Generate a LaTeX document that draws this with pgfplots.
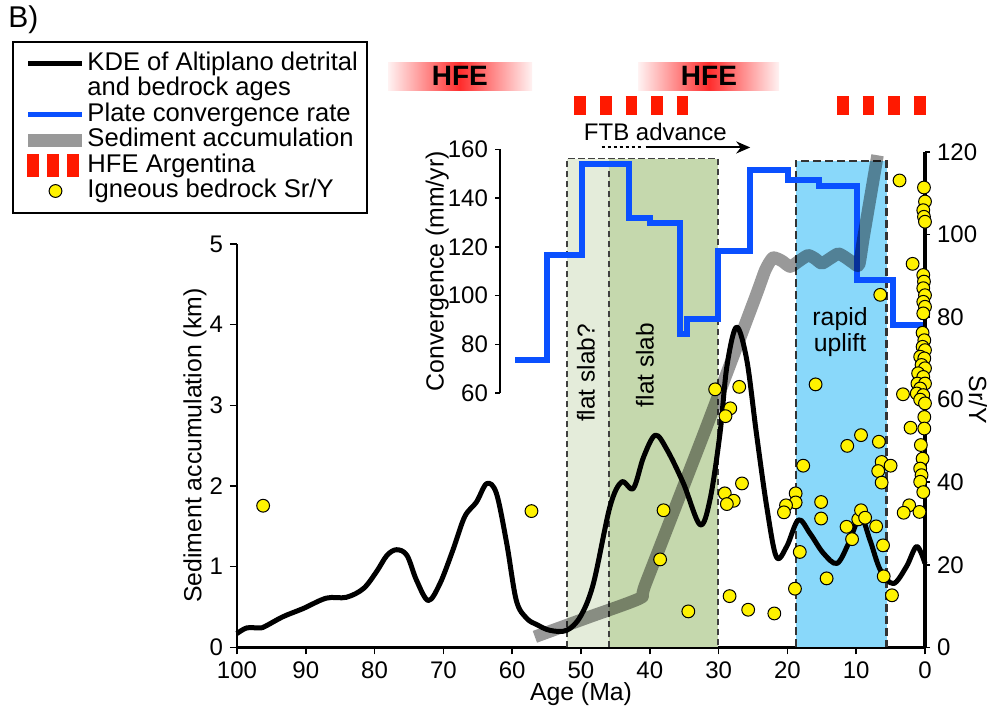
\documentclass[border=0pt]{standalone}
\usepackage{fontspec}
\setmainfont{Liberation Sans}
\usepackage{pgfplots}
\pgfplotsset{compat=1.18}
\usetikzlibrary{arrows.meta}

\definecolor{convblue}{RGB}{10,80,255}
\definecolor{slabA}{RGB}{228,236,218}
\definecolor{slabB}{RGB}{197,216,173}
\definecolor{upliftblue}{RGB}{137,216,250}
\definecolor{srydot}{RGB}{255,242,0}
\definecolor{hfeband}{RGB}{255,45,45}
\definecolor{hfedash}{RGB}{255,25,0}

\pgfplotsset{
  base/.style={scale only axis, width=344pt, at={(118.5pt,32.85pt)}, anchor=south west,
    xmin=0, xmax=100, x dir=reverse, clip=false, tick align=outside,
    /pgf/number format/assume math mode=true,
    tick label style={font=\fontsize{12}{14}\selectfont},
    label style={font=\fontsize{12.4}{15}\selectfont},
    every tick/.style={black,line width=0.8pt}, major tick length=3.5pt},
}

\begin{document}
\begin{tikzpicture}
\useasboundingbox (0,0) rectangle (494.5pt,356.5pt);

% ---------- Axis A1: regions, bottom and left axes ----------
\begin{axis}[base, height=201.65pt, ymin=0, ymax=5,
  axis x line*=bottom, axis y line*=left,
  x axis line style={line width=1.5pt,-}, y axis line style={line width=0.8pt,-},
  xtick={0,10,...,100}, ytick={0,1,...,5},
  xlabel={Age (Ma)}, ylabel={Sediment accumulation (km)},
  xlabel style={at={(axis description cs:0.5,-0.115)}, anchor=center},
  ylabel style={at={(axis description cs:-0.061,0.5)}, anchor=center}]
\addplot[draw=none, fill=slabA, forget plot] coordinates {(52.0,6.06) (45.9,6.06)} \closedcycle;
\addplot[draw=none, fill=slabB, forget plot] coordinates {(45.9,6.06) (30.04,6.06)} \closedcycle;
\addplot[draw=none, fill=upliftblue, forget plot] coordinates {(18.79,6.03) (5.57,6.03)} \closedcycle;
\addplot[black!75, line width=0.9pt, dash pattern=on 3.3pt off 1.7pt, forget plot]
  coordinates {(52.0,0) (52.0,6.06) (30.04,6.06) (30.04,0)};
\addplot[black!75, line width=0.9pt, dash pattern=on 3.3pt off 1.7pt, forget plot]
  coordinates {(45.9,0) (45.9,6.06)};
\addplot[black!80, line width=1.2pt, dash pattern=on 4pt off 2pt, forget plot]
  coordinates {(18.79,0) (18.79,6.03) (5.57,6.03) (5.57,0)};
\node[rotate=90, font=\fontsize{12.2}{14}\selectfont] at (axis cs:49.3,3.40) {flat slab?};
\node[rotate=90, font=\fontsize{12.2}{14}\selectfont] at (axis cs:40.7,3.50) {flat slab};
\node[align=center, font=\fontsize{12.4}{13.2}\selectfont] at (axis cs:12.35,3.91) {rapid\\uplift};
\end{axis}

% ---------- Axis C: convergence rate ----------
\begin{axis}[scale only axis, width=212.5pt, height=121.75pt, at={(250pt,160pt)}, anchor=south west,
  xmin=0, xmax=61.8, x dir=reverse, ymin=60, ymax=160, clip=false,
  axis x line=none, axis y line*=left, y axis line style={line width=0.8pt,-},
  tick align=outside, every tick/.style={black,line width=0.8pt}, major tick length=2.5pt,
  /pgf/number format/assume math mode=true,
  tick label style={font=\fontsize{12}{14}\selectfont},
  label style={font=\fontsize{12.4}{15}\selectfont},
  ytick={60,80,...,160}, ylabel={Convergence (mm/yr)},
  ylabel style={at={(axis description cs:-0.148,0.5)}, anchor=center}]
\addplot[convblue, line width=3pt, line join=miter, forget plot] coordinates {
(59.6,73.6) (54.9,73.6) (54.9,116.8) (49.85,116.8) (49.85,154.2) (43.1,154.2)
(43.1,132) (40.0,132) (40.0,130) (35.65,130) (35.65,84.3) (34.6,84.3) (34.6,90.5)
(30.1,90.5) (30.1,118.2) (25.5,118.2) (25.5,151.5) (19.9,151.5) (19.9,147.4)
(15.4,147.4) (15.4,145.0) (9.9,145.0) (9.9,106.6) (4.7,106.6) (4.7,88) (0,88)};
\end{axis}

% ---------- Axis A2: sediment accumulation and KDE ----------
\begin{axis}[base, height=201.65pt, ymin=0, ymax=5, hide axis]
\addplot[black, draw opacity=0.4, line width=6.25pt, line cap=butt, line join=round,
  smooth, tension=0.35, forget plot] coordinates {
(56.7,0.13) (49,0.37) (41.4,0.61) (40.6,0.79) (32,2.68) (24.7,4.33) (23.2,4.68) (22.1,4.83)
(20.8,4.79) (19.6,4.72) (18.3,4.79) (17.0,4.86) (16.0,4.82) (15.0,4.76) (13.8,4.82)
(12.6,4.88) (11.5,4.83) (10.5,4.77) (9.6,4.74) (8.9,5.1) (6.9,6.1)};
\addplot[black, line width=2.5pt, smooth, tension=0.55, line join=round, forget plot] coordinates {
(100,0.17) (98.6,0.24) (96.7,0.24) (95.9,0.26) (93.3,0.38) (90.4,0.48) (87.0,0.61)
(84.1,0.62) (81.6,0.73) (79.7,0.94) (78.2,1.14) (76.8,1.21) (75.3,1.14) (73.9,0.83)
(72.2,0.58) (70.5,0.79) (68.6,1.21) (66.9,1.62) (65.2,1.80) (63.7,2.03) (62.3,1.91)
(60.8,1.29) (59.4,0.58) (57.9,0.36) (56.4,0.28) (54.5,0.21) (52.1,0.21) (50.1,0.38)
(48.2,0.79) (45.8,1.74) (44.1,2.05) (42.4,1.97) (40.9,2.36) (39.2,2.63) (37.5,2.45)
(35.1,2.03) (32.7,1.52) (31.25,1.83) (29.8,2.65) (28.8,3.48) (27.4,3.97) (25.9,3.56)
(24.5,2.65) (23.0,1.74) (21.6,1.12) (20.1,1.25) (18.4,1.58) (16.7,1.41) (14.8,1.17)
(12.8,1.04) (11.1,1.29) (9.4,1.62) (8.0,1.33) (6.5,0.96) (4.6,0.79) (2.7,1.0)
(1.2,1.25) (0,1.04)};
\end{axis}

% ---------- Axis B: Sr/Y, HFE, legend ----------
\begin{axis}[base, height=247.65pt, ymin=0, ymax=120,
  axis x line=none, axis y line*=right, y axis line style={line width=1.6pt,-},
  major tick length=2.5pt,
  ytick={0,20,...,120}, ylabel={Sr/Y},
  ylabel style={at={(axis description cs:1.077,0.5)}, anchor=center, rotate=180},
  legend cell align=left,
  legend style={at={(axis description cs:-0.32703,1.22411)}, anchor=north west,
    draw=black, line width=1pt, inner xsep=4.5pt, inner ysep=4.5pt,
    font=\fontsize{12.8}{14}\selectfont, column sep=-0.75pt, row sep=0.25pt,
    nodes={inner sep=0pt, text height=9.6pt, text depth=2.9pt}}]
% HFE bands
\shade[left color=hfeband!6, right color=hfeband] (axis cs:78.05,135.0) rectangle (axis cs:67.6,141.75);
\shade[left color=hfeband, right color=hfeband!6] (axis cs:67.6,135.0) rectangle (axis cs:57.1,141.75);
\shade[left color=hfeband!6, right color=hfeband] (axis cs:41.7,135.0) rectangle (axis cs:31.4,141.75);
\shade[left color=hfeband, right color=hfeband!6] (axis cs:31.4,135.0) rectangle (axis cs:21.2,141.75);
\node[font=\bfseries\fontsize{14}{16}\selectfont] at (axis cs:67.6,138.4) {HFE};
\node[font=\bfseries\fontsize{14}{16}\selectfont] at (axis cs:31.4,138.4) {HFE};
% HFE Argentina
\addplot[hfedash, line width=9.5pt, line cap=butt, dash pattern=on 5.85pt off 6.95pt, forget plot]
  coordinates {(50.97,131.3) (34.4,131.3)};
\addplot[hfedash, line width=9.5pt, line cap=butt, dash pattern=on 5.85pt off 6.95pt, forget plot]
  coordinates {(12.79,131.3) (-0.29,131.3)};
% FTB advance
\node[font=\fontsize{12}{14}\selectfont] at (axis cs:39.2,124.9) {FTB advance};
\draw[line width=1pt, dash pattern=on 1.5pt off 1.5pt] (axis cs:47.0,121.1) -- (axis cs:41.2,121.1);
\draw[line width=1pt, -{Stealth[length=7pt,width=6pt]}] (axis cs:40.6,121.1) -- (axis cs:25.4,121.1);
% Sr/Y points
\addplot[only marks, mark=*, mark size=3.2pt, mark options={fill=srydot, draw=black, line width=0.5pt}, forget plot]
coordinates {
(96.2,34.3) (57.2,33.0) (38.0,33.2) (38.5,21.3) (34.4,8.7) (30.5,62.5) (27.0,63.1)
(28.3,57.9) (29.0,56.0) (26.6,39.7) (29.1,37.3) (27.8,35.5) (28.8,34.7) (28.4,12.4)
(25.7,9.1) (21.9,8.2) (15.9,63.7) (17.7,44.0) (18.8,37.3) (18.8,35.1) (20.2,34.4)
(20.5,32.7) (18.2,23.1) (18.9,14.2) (15.1,35.2) (15.1,31.2) (14.3,16.7) (11.3,48.8)
(9.3,51.4) (6.7,49.8) (6.3,44.9) (6.8,42.7) (5.0,44.0) (6.3,39.9) (11.4,29.2)
(10.6,26.2) (9.7,31.0) (9.3,33.2) (8.7,31.4) (7.1,29.3) (6.1,24.7) (6.0,17.2)
(4.8,12.6) (3.2,61.3) (2.1,53.2) (2.3,34.4) (3.1,32.6) (0.8,32.8) (3.7,113.1)
(6.5,85.4) (1.8,92.9)
(0.15,111.4) (0.0,108.0) (0.25,105.9) (0.15,104.3) (0.0,103.1) (0.25,90.2) (0.15,88.6)
(0.25,87.0) (0.0,85.3) (0.25,83.7) (0.0,82.5) (0.25,80.9) (0.35,76.2) (0.1,74.4)
(0.35,72.8) (0.0,72.0) (0.7,70.4) (0.1,70.0) (0.5,68.4) (0.0,67.6) (1.0,66.4)
(0.25,65.5) (1.1,63.9) (0.0,63.9) (0.7,62.7) (1.2,61.5) (0.25,61.1) (0.7,60.0)
(0.0,59.1) (0.1,55.8) (0.1,53.0) (0.6,49.0) (0.35,45.7) (0.7,43.3) (0.5,41.7)
(0.7,40.1) (0.25,37.6)};
% legend
\addlegendimage{legend image code/.code={\draw[black,line width=2.5pt] (0pt,0pt)--(27pt,0pt);}}
\addlegendentry{KDE of Altiplano detrital}
\addlegendimage{empty legend}
\addlegendentry{and bedrock ages}
\addlegendimage{legend image code/.code={\draw[convblue,line width=2.8pt] (0pt,0pt)--(27pt,0pt);}}
\addlegendentry{Plate convergence rate}
\addlegendimage{legend image code/.code={\draw[black!40,line width=6.5pt] (0pt,0pt)--(27pt,0pt);}}
\addlegendentry{Sediment accumulation}
\addlegendimage{legend image code/.code={\fill[hfedash] (0pt,-5.25pt) rectangle (5pt,5.25pt) (10pt,-5.25pt) rectangle (15pt,5.25pt) (20pt,-5.25pt) rectangle (25pt,5.25pt);}}
\addlegendentry{HFE Argentina}
\addlegendimage{legend image code/.code={\draw[fill=srydot,draw=black,line width=0.5pt] (13.5pt,0pt) circle (3.2pt);}}
\addlegendentry{Igneous bedrock Sr/Y}
\end{axis}

\node[anchor=west, inner sep=0pt, font=\fontsize{15}{18}\selectfont] at (4pt,346.5pt) {B)};
\end{tikzpicture}
\end{document}
